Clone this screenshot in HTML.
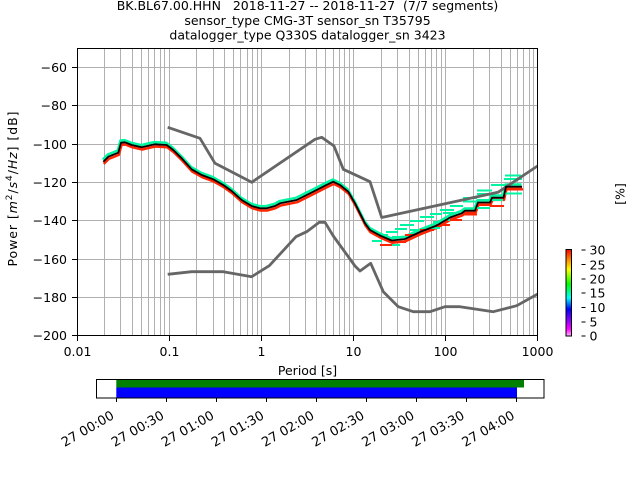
<!DOCTYPE html>
<html><head><meta charset="utf-8"><style>
html,body{margin:0;padding:0;background:#fff;}
svg{display:block;}
text{font-family:"DejaVu Sans","Liberation Sans",sans-serif;}
</style></head><body>
<svg width="640" height="480" viewBox="0 0 640 480" xmlns="http://www.w3.org/2000/svg" font-size="12.5">
<defs>
<clipPath id="ax"><rect x="77.5" y="48.5" width="460" height="287"/></clipPath>
<linearGradient id="cb" x1="0" y1="0" x2="0" y2="1">
<stop offset="0" stop-color="#ff0000"/>
<stop offset="0.12" stop-color="#ff8c00"/>
<stop offset="0.23" stop-color="#ffff00"/>
<stop offset="0.40" stop-color="#00ff00"/>
<stop offset="0.56" stop-color="#00ffff"/>
<stop offset="0.69" stop-color="#0000ff"/>
<stop offset="0.81" stop-color="#8000ff"/>
<stop offset="0.92" stop-color="#ff00ff"/>
<stop offset="1" stop-color="#ffb8ff"/>
</linearGradient>
</defs>
<rect width="640" height="480" fill="#fff"/>

<!-- title -->
<g text-anchor="middle" fill="#000">
<text x="307.5" y="10" xml:space="preserve" style="white-space:pre">BK.BL67.00.HHN   2018-11-27 -- 2018-11-27  (7/7 segments)</text>
<text x="307.5" y="25">sensor_type CMG-3T sensor_sn T35795</text>
<text x="307.5" y="39.5">datalogger_type Q330S datalogger_sn 3423</text>
</g>

<!-- grid -->
<g stroke="#b0b0b0" stroke-width="1" fill="none">
<path d="M104.5 48V336M120.5 48V336M132.5 48V336M141.5 48V336M148.5 48V336M154.5 48V336M160.5 48V336M164.5 48V336
M169.5 48V336M196.5 48V336M213.5 48V336M224.5 48V336M233.5 48V336M240.5 48V336M247.5 48V336M252.5 48V336M257.5 48V336
M261.5 48V336M289.5 48V336M305.5 48V336M316.5 48V336M325.5 48V336M333.5 48V336M339.5 48V336M344.5 48V336M349.5 48V336
M353.5 48V336M381.5 48V336M397.5 48V336M409.5 48V336M418.5 48V336M425.5 48V336M431.5 48V336M436.5 48V336M441.5 48V336
M445.5 48V336M473.5 48V336M489.5 48V336M501.5 48V336M510.5 48V336M517.5 48V336M523.5 48V336M529.5 48V336M533.5 48V336
M77 67.5H538M77 105.5H538M77 144.5H538M77 182.5H538M77 220.5H538M77 259.5H538M77 297.5H538"/>
</g>

<g clip-path="url(#ax)">
<!-- histogram approximation -->
<g fill="none" stroke-linejoin="round">
<polyline transform="translate(-0.5,-2.2)" stroke="#00f5a0" stroke-width="2.5" points="103.3,161.7 108.3,156.7 118.3,152.7 121,142.7 125,142.3 131.7,145 141.7,147.3 148.3,145.7 155,144.3 166.7,145 173.3,150 181.7,158.3 191.7,169.3 201.7,175 213.3,179.3 223.3,185 231.7,191 241.7,200 251.7,206 260,208.3 266.7,208.3 275,206 280,203.3 296.7,200 313.3,191.7 325,185.7 333.3,181.7 340,185 348.3,191.7 355,203.3 360,213.3 365,223.3 370,230 380,235.5 391.7,240.5 405,239 420,232 436.7,225.5 450,217.5 461.7,213.3 465,210.7 475,210.7 478,202.5 490,202.5 492,197.7 503.5,197.7 506,186.7 522,186.7"/>
<polyline transform="translate(0.5,2.2)" stroke="#ff2400" stroke-width="2.5" points="103.3,161.7 108.3,156.7 118.3,152.7 121,142.7 125,142.3 131.7,145 141.7,147.3 148.3,145.7 155,144.3 166.7,145 173.3,150 181.7,158.3 191.7,169.3 201.7,175 213.3,179.3 223.3,185 231.7,191 241.7,200 251.7,206 260,208.3 266.7,208.3 275,206 280,203.3 296.7,200 313.3,191.7 325,185.7 333.3,181.7 340,185 348.3,191.7 355,203.3 360,213.3 365,223.3 370,230 380,235.5 391.7,240.5 405,239 420,232 436.7,225.5 450,217.5 461.7,213.3 465,210.7 475,210.7 478,202.5 490,202.5 492,197.7 503.5,197.7 506,186.7 522,186.7"/>
</g>
<g fill="#00f5a0">
<rect x="505" y="174.5" width="16" height="2"/>
<rect x="504" y="178" width="18" height="2"/>
<rect x="491" y="184" width="14" height="2"/>
<rect x="477" y="189.5" width="15" height="2"/>
<rect x="477" y="193" width="15" height="2"/>
<rect x="505" y="192.5" width="17" height="2"/>
<rect x="463" y="197" width="14" height="2"/>
<rect x="463" y="200.5" width="14" height="2"/>
<rect x="490" y="199" width="13" height="2"/>
<rect x="450" y="205" width="13" height="2"/>
<rect x="440" y="209" width="14" height="2"/>
<rect x="443" y="212" width="14" height="2"/>
<rect x="430" y="213" width="12" height="2"/>
<rect x="420" y="216" width="14" height="2"/>
<rect x="410" y="220" width="14" height="2"/>
<rect x="433" y="221" width="10" height="2"/>
<rect x="400" y="224" width="14" height="2"/>
<rect x="395" y="228" width="12" height="2"/>
<rect x="410" y="229" width="10" height="2"/>
<rect x="386" y="231" width="12" height="2"/>
<rect x="378" y="234" width="10" height="2"/>
<rect x="392" y="236" width="8" height="2"/>
<rect x="476" y="207" width="14" height="2"/>
<rect x="448" y="219" width="12" height="2"/>
<rect x="428" y="227" width="12" height="2"/>
<rect x="372" y="240" width="10" height="2"/>
<rect x="392" y="244" width="8" height="2"/>
</g>
<g fill="#ff2400">
<rect x="507" y="188.5" width="16" height="2"/>
<rect x="490" y="205" width="14" height="2"/>
<rect x="463" y="213.5" width="14" height="2"/>
<rect x="450" y="219" width="12" height="2"/>
<rect x="436" y="224" width="14" height="2"/>
<rect x="420" y="229" width="14" height="2"/>
<rect x="405" y="234" width="14" height="2"/>
<rect x="392" y="241" width="14" height="2"/>
<rect x="380" y="244" width="12" height="2"/>
</g>

<!-- NHNM / NLNM -->
<g fill="none" stroke="#666666" stroke-width="2.8" stroke-linejoin="round">
<polyline points="167.7,127.3 200,138.3 215,163.3 251.7,182.3 315,139.3 321.7,137.3 334,146 343.3,169.3 370,181.7 381.7,217.5 498,192.3 545,161"/>
<polyline points="167.7,274.3 191.7,271.7 223.3,271.7 251.7,276.7 269.3,265.7 296,236.7 306.7,231.7 319.3,222.3 325,222.3 333.3,236 355,266 360,271 370.7,263.3 383.3,291.7 398.3,306.7 413.3,311.7 430,311.7 445,306.7 460,306.7 493.3,311.7 516.7,305.7 545,290"/>
</g>

<!-- mean line -->
<polyline fill="none" stroke="#000" stroke-width="1.8" stroke-linejoin="round" points="103.3,161.7 108.3,156.7 118.3,152.7 121,142.7 125,142.3 131.7,145 141.7,147.3 148.3,145.7 155,144.3 166.7,145 173.3,150 181.7,158.3 191.7,169.3 201.7,175 213.3,179.3 223.3,185 231.7,191 241.7,200 251.7,206 260,208.3 266.7,208.3 275,206 280,203.3 296.7,200 313.3,191.7 325,185.7 333.3,181.7 340,185 348.3,191.7 355,203.3 360,213.3 365,223.3 370,230 380,235.5 391.7,240.5 405,239 420,232 436.7,225.5 450,217.5 461.7,213.3 465,210.7 475,210.7 478,202.5 490,202.5 492,197.7 503.5,197.7 506,186.7 522,186.7"/>
</g>

<!-- axes frame & ticks -->
<rect x="77.5" y="48.5" width="460" height="287" fill="none" stroke="#000" stroke-width="1"/>
<g stroke="#000" stroke-width="1">
<path d="M72 67.5H77M72 105.5H77M72 144.5H77M72 182.5H77M72 220.5H77M72 259.5H77M72 297.5H77M72 335.5H77"/>
<path d="M77.5 336V341M169.5 336V341M261.5 336V341M353.5 336V341M445.5 336V341M537.5 336V341"/>
</g>
<g text-anchor="end" fill="#000">
<text x="67" y="72">−60</text>
<text x="67" y="110">−80</text>
<text x="67" y="149">−100</text>
<text x="67" y="187">−120</text>
<text x="67" y="225">−140</text>
<text x="67" y="264">−160</text>
<text x="67" y="302">−180</text>
<text x="67" y="340">−200</text>
</g>
<g text-anchor="middle" fill="#000">
<text x="77.5" y="356">0.01</text>
<text x="169.5" y="356">0.1</text>
<text x="261.5" y="356">1</text>
<text x="353.5" y="356">10</text>
<text x="445.5" y="356">100</text>
<text x="537.5" y="356">1000</text>
<text x="307.5" y="375">Period [s]</text>
</g>

<!-- y label -->
<text transform="translate(17,189) rotate(-90)" text-anchor="middle" textLength="155" lengthAdjust="spacing">Power [<tspan font-style="italic">m</tspan><tspan dy="-5" font-size="9">2</tspan><tspan dy="5">/</tspan><tspan font-style="italic">s</tspan><tspan dy="-5" font-size="9">4</tspan><tspan dy="5">/</tspan><tspan font-style="italic">Hz</tspan>] [dB]</text>

<!-- colorbar -->
<rect x="566" y="249.5" width="5.5" height="86.5" fill="url(#cb)" stroke="#000" stroke-width="1"/>
<g stroke="#000" stroke-width="1">
<path d="M581.5 250H585.5M581.5 264.5H585.5M581.5 279H585.5M581.5 293H585.5M581.5 307.5H585.5M581.5 322H585.5M581.5 336H585.5"/>
</g>
<g fill="#000">
<text x="589.5" y="254.5">30</text>
<text x="589.5" y="269.5">25</text>
<text x="589.5" y="283.5">20</text>
<text x="589.5" y="297.5">15</text>
<text x="589.5" y="312">10</text>
<text x="589.5" y="326.5">5</text>
<text x="589.5" y="340.5">0</text>
<text transform="translate(624.5,194) rotate(-90)" text-anchor="middle">[%]</text>
</g>

<!-- time coverage bar -->
<rect x="116.3" y="379.5" width="407.7" height="8" fill="#008000"/>
<rect x="116.3" y="387.5" width="400.7" height="10.5" fill="#0000ff"/>
<rect x="96.5" y="379.5" width="447.5" height="18.5" fill="none" stroke="#000" stroke-width="1"/>
<g stroke="#000" stroke-width="1">
<path d="M116.5 398V402M166.5 398V402M216.5 398V402M266.5 398V402M316.5 398V402M366.5 398V402M416.5 398V402M466.5 398V402M516.5 398V402"/>
</g>
<g text-anchor="end" fill="#000" font-size="13">
<text transform="translate(115,418) rotate(-30)">27 00:00</text>
<text transform="translate(165,418) rotate(-30)">27 00:30</text>
<text transform="translate(215,418) rotate(-30)">27 01:00</text>
<text transform="translate(265,418) rotate(-30)">27 01:30</text>
<text transform="translate(315.2,418) rotate(-30)">27 02:00</text>
<text transform="translate(365.3,418) rotate(-30)">27 02:30</text>
<text transform="translate(415.3,418) rotate(-30)">27 03:00</text>
<text transform="translate(465.4,418) rotate(-30)">27 03:30</text>
<text transform="translate(515.5,418) rotate(-30)">27 04:00</text>
</g>
</svg>
</body></html>
